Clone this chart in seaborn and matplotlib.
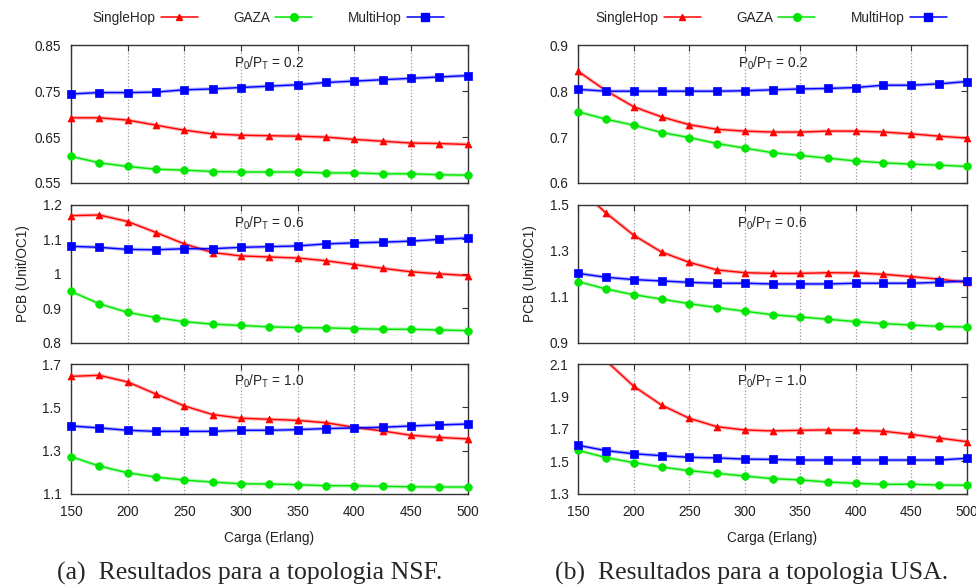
import matplotlib
matplotlib.use("Agg")
import matplotlib.pyplot as plt
from matplotlib.lines import Line2D
import seaborn as sns
import numpy as np
import pandas as pd

# ============================================
# Data
# ============================================

LOAD = [150, 175, 200, 225, 250, 275, 300, 325, 350, 375, 400, 425, 450, 475, 500]
RATIOS = ["0.2", "0.6", "1.0"]

# NSF topology
NSF_SINGLE_02 = [0.692, 0.692, 0.687, 0.676, 0.665, 0.657, 0.654, 0.653, 0.652, 0.650, 0.645, 0.641, 0.637, 0.636, 0.634]
NSF_GAZA_02 = [0.608, 0.594, 0.586, 0.580, 0.578, 0.575, 0.574, 0.574, 0.574, 0.572, 0.572, 0.570, 0.570, 0.568, 0.567]
NSF_MULTI_02 = [0.744, 0.747, 0.747, 0.748, 0.753, 0.755, 0.758, 0.761, 0.764, 0.769, 0.772, 0.775, 0.778, 0.781, 0.784]

NSF_SINGLE_06 = [1.169, 1.171, 1.152, 1.120, 1.087, 1.062, 1.052, 1.049, 1.046, 1.038, 1.027, 1.016, 1.006, 1.000, 0.995]
NSF_GAZA_06 = [0.949, 0.913, 0.888, 0.873, 0.861, 0.854, 0.850, 0.846, 0.844, 0.843, 0.841, 0.839, 0.839, 0.837, 0.835]
NSF_MULTI_06 = [1.080, 1.077, 1.071, 1.070, 1.073, 1.073, 1.077, 1.079, 1.081, 1.087, 1.090, 1.092, 1.095, 1.100, 1.104]

NSF_SINGLE_10 = [1.644, 1.649, 1.618, 1.562, 1.507, 1.467, 1.450, 1.445, 1.440, 1.429, 1.408, 1.391, 1.371, 1.361, 1.354]
NSF_GAZA_10 = [1.272, 1.228, 1.197, 1.177, 1.163, 1.154, 1.146, 1.145, 1.142, 1.137, 1.137, 1.134, 1.132, 1.131, 1.131]
NSF_MULTI_10 = [1.414, 1.405, 1.394, 1.389, 1.389, 1.389, 1.394, 1.394, 1.397, 1.402, 1.405, 1.408, 1.414, 1.419, 1.423]

# USA topology
USA_SINGLE_02 = [0.843, 0.801, 0.766, 0.744, 0.727, 0.717, 0.713, 0.711, 0.711, 0.713, 0.713, 0.711, 0.707, 0.702, 0.698]
USA_GAZA_02 = [0.755, 0.739, 0.726, 0.710, 0.699, 0.686, 0.676, 0.666, 0.660, 0.654, 0.648, 0.644, 0.641, 0.639, 0.636]
USA_MULTI_02 = [0.804, 0.800, 0.800, 0.800, 0.800, 0.800, 0.801, 0.803, 0.805, 0.806, 0.808, 0.813, 0.813, 0.816, 0.821]

USA_SINGLE_06 = [1.575, 1.465, 1.368, 1.295, 1.250, 1.217, 1.205, 1.202, 1.202, 1.205, 1.204, 1.198, 1.188, 1.177, 1.163]
USA_GAZA_06 = [1.166, 1.134, 1.109, 1.090, 1.070, 1.053, 1.037, 1.022, 1.012, 1.002, 0.992, 0.983, 0.977, 0.971, 0.968]
USA_MULTI_06 = [1.202, 1.185, 1.175, 1.169, 1.163, 1.159, 1.159, 1.156, 1.156, 1.156, 1.159, 1.159, 1.159, 1.163, 1.169]

USA_SINGLE_10 = [2.31, 2.122, 1.964, 1.848, 1.766, 1.714, 1.694, 1.688, 1.692, 1.694, 1.692, 1.686, 1.667, 1.644, 1.622]
USA_GAZA_10 = [1.568, 1.523, 1.492, 1.465, 1.442, 1.426, 1.409, 1.393, 1.385, 1.372, 1.364, 1.358, 1.358, 1.354, 1.352]
USA_MULTI_10 = [1.599, 1.566, 1.547, 1.535, 1.525, 1.521, 1.514, 1.512, 1.508, 1.508, 1.508, 1.508, 1.508, 1.508, 1.519]

NSF_YLIMS = [(0.55, 0.85), (0.8, 1.2), (1.1, 1.7)]
NSF_YTICKS = [[0.55, 0.65, 0.75, 0.85], [0.8, 0.9, 1.0, 1.1, 1.2], [1.1, 1.3, 1.5, 1.7]]
USA_YLIMS = [(0.6, 0.9), (0.9, 1.5), (1.3, 2.1)]
USA_YTICKS = [[0.6, 0.7, 0.8, 0.9], [0.9, 1.1, 1.3, 1.5], [1.3, 1.5, 1.7, 1.9, 2.1]]
NSF_TICKLABELS = [["0.55", "0.65", "0.75", "0.85"], ["0.8", "0.9", "1", "1.1", "1.2"], ["1.1", "1.3", "1.5", "1.7"]]
USA_TICKLABELS = [["0.6", "0.7", "0.8", "0.9"], ["0.9", "1.1", "1.3", "1.5"], ["1.3", "1.5", "1.7", "1.9", "2.1"]]

CAPTION_NSF = "(a)  Resultados para a topologia NSF."
CAPTION_USA = "(b)  Resultados para a topologia USA."

# ============================================
# Style
# ============================================

sns.set_style("white")
plt.rcParams.update({
    'font.family': ['Liberation Sans', 'DejaVu Sans'],
    'mathtext.fontset': 'custom',
    'mathtext.rm': 'Liberation Sans',
    'mathtext.it': 'Liberation Sans:italic',
    'axes.linewidth': 1.0,
})

SERIES = [
    ("SingleHop", "#ff0000", "^", 5.0),
    ("GAZA", "#00e600", "o", 5.5),
    ("MultiHop", "#0000ff", "s", 5.8),
]
FRAME = '#333333'
TEXT = '#222222'
FS = 9.8

nsf_data = [
    [NSF_SINGLE_02, NSF_GAZA_02, NSF_MULTI_02],
    [NSF_SINGLE_06, NSF_GAZA_06, NSF_MULTI_06],
    [NSF_SINGLE_10, NSF_GAZA_10, NSF_MULTI_10],
]
usa_data = [
    [USA_SINGLE_02, USA_GAZA_02, USA_MULTI_02],
    [USA_SINGLE_06, USA_GAZA_06, USA_MULTI_06],
    [USA_SINGLE_10, USA_GAZA_10, USA_MULTI_10],
]

fig = plt.figure(figsize=(9.76, 5.88), dpi=100)
W, H = 976.0, 588.0

# axes boxes in pixels: (top, bottom)
ROWS = [(45.3, 183.0), (205.0, 342.7), (364.3, 493.7)]
PANELS = [
    dict(x0=71.0, x1=467.5, data=nsf_data, ylims=NSF_YLIMS, yticks=NSF_YTICKS,
         yticklabels=NSF_TICKLABELS, caption=CAPTION_NSF, cap_x=250, leg_x=268),
    dict(x0=578.3, x1=966.7, data=usa_data, ylims=USA_YLIMS, yticks=USA_YTICKS,
         yticklabels=USA_TICKLABELS, caption=CAPTION_USA, cap_x=752, leg_x=771),
]

handles = [Line2D([], [], color=c, marker=m, markersize=ms, linewidth=1.1, label=n)
           for n, c, m, ms in SERIES]

for panel in PANELS:
    for r, (top, bot) in enumerate(ROWS):
        ax = fig.add_axes([panel['x0'] / W, 1 - bot / H,
                           (panel['x1'] - panel['x0']) / W, (bot - top) / H])
        lo, hi = panel['ylims'][r]
        for (name, color, marker, ms), vals in zip(SERIES, panel['data'][r]):
            df = pd.DataFrame({'load': LOAD, 'pcb': vals})
            # soft halo + thin core, clipped at the frame
            sns.lineplot(data=df, x='load', y='pcb', color=color, linewidth=2.6,
                         alpha=0.3, ax=ax)
            sns.lineplot(data=df, x='load', y='pcb', color=color, linewidth=1.0, ax=ax)
            # points inside the range are drawn whole, even on the border
            inside = df[(df['pcb'] >= lo) & (df['pcb'] <= hi)]
            sns.scatterplot(data=inside, x='load', y='pcb', color=color, marker=marker,
                            s=ms ** 2, edgecolor=color, linewidth=0.5, clip_on=False,
                            zorder=3, ax=ax)

        ax.set_xlim(150, 500)
        ax.set_ylim(lo, hi)
        ax.set_xticks(LOAD[::2])
        ax.set_yticks(panel['yticks'][r])
        ax.set_yticklabels(panel['yticklabels'][r])
        ax.grid(axis='x', linestyle=':', color='#999999', linewidth=0.9)
        ax.grid(axis='y', visible=False)
        ax.tick_params(direction='in', top=True, right=True, length=4,
                       color=FRAME, labelsize=FS, labelcolor=TEXT)
        ax.tick_params(axis='y', pad=7)
        ax.tick_params(axis='x', pad=8)
        for spine in ax.spines.values():
            spine.set_visible(True)
            spine.set_color(FRAME)
        ax.set_xlabel('')
        ax.set_ylabel('')
        if r < 2:
            ax.set_xticklabels([])
        else:
            ax.set_xlabel('Carga (Erlang)', fontsize=FS, labelpad=9, color=TEXT)
        if r == 1:
            ax.set_ylabel('PCB (Unit/OC1)', fontsize=FS, labelpad=9, color=TEXT)

        ax.text(0.5, 0.87, "P$_0$/P$_\\mathrm{T}$ = " + RATIOS[r], transform=ax.transAxes,
                ha='center', va='center', fontsize=FS, color=TEXT)

    fig.legend(handles=handles, loc='center', ncol=3, frameon=False,
               bbox_to_anchor=(panel['leg_x'] / W, 1 - 18 / H),
               markerfirst=False, handlelength=2.7, columnspacing=2.6,
               handletextpad=0.4, fontsize=FS)

    fig.text(panel['cap_x'] / W, 1 - 573 / H, panel['caption'], ha='center', va='center',
             fontsize=18.5, family=['Liberation Serif', 'DejaVu Serif'])

fig.savefig('out.png', dpi=100)
